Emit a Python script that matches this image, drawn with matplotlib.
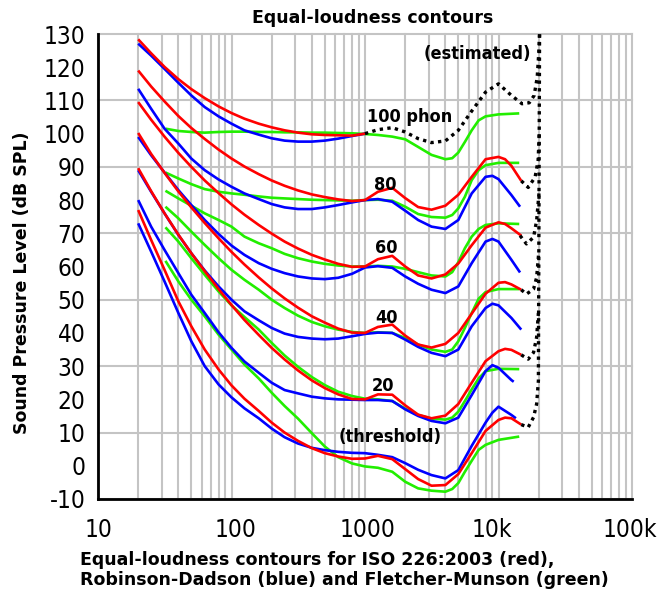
import os
import matplotlib
matplotlib.use('Agg')
import matplotlib.pyplot as plt
from matplotlib import font_manager as fm
from matplotlib.transforms import ScaledTranslation

# ---------------- data ----------------
iso_freq = [20, 25, 31.5, 40, 50, 63, 80, 100, 125, 160, 200, 250, 315, 400, 500,
            630, 800, 1000, 1250, 1600, 2000, 2500, 3150, 4000, 5000, 6300, 8000,
            10000, 11200, 12500, 14800]
iso_0 = [77, 68, 59, 49.5, 42, 35, 29, 24.2, 20.2, 16.5, 13, 10, 7.5, 5.3, 3.8,
         2.8, 2.1, 2.2, 3.0, 2.0, -1.0, -4.0, -6.0, -5.8, -2.5, 3.8, 10.5,
         13.8, 14.5, 14.3, 12.4]
iso_20 = [89.6, 82.7, 76.0, 69.6, 64.0, 58.6, 53.2, 48.4, 43.9, 39.4, 35.5, 32.0,
          28.7, 25.7, 23.4, 21.5, 20.1, 20.0, 21.5, 21.4, 18.2, 15.4, 14.3, 15.1,
          18.6, 25.0, 31.5, 34.5, 35.2, 34.9, 33.4]
iso_40 = [100.2, 93.9, 88.2, 82.6, 77.8, 73.1, 68.5, 64.4, 60.6, 56.7, 53.4, 50.4,
          47.6, 45.0, 43.1, 41.3, 40.1, 40.0, 41.8, 42.5, 39.2, 36.5, 35.6, 36.7,
          40.0, 45.8, 51.8, 55.1, 55.3, 54.6, 53.0]
iso_60 = [109.5, 104.2, 99.1, 94.2, 90.0, 85.9, 82.1, 78.7, 75.6, 72.5, 69.9, 67.5,
          65.4, 63.5, 62.1, 60.8, 59.9, 60.0, 62.2, 63.2, 60.0, 57.3, 56.4, 57.6,
          60.9, 66.4, 71.7, 73.3, 72.8, 71.5, 69.3]
iso_80 = [119.0, 114.2, 109.7, 105.3, 101.7, 98.4, 95.2, 92.5, 90.1, 87.8, 85.9,
          84.3, 82.9, 81.7, 80.9, 80.2, 79.7, 80.0, 82.5, 83.7, 80.6, 77.9, 77.1,
          78.3, 81.6, 87.0, 92.3, 93.0, 92.3, 90.3, 85.8]
iso_100_freq = iso_freq[:18]
iso_100 = [128.4, 124.2, 120.1, 116.4, 113.4, 110.7, 108.2, 106.2, 104.5, 103.0,
           101.9, 101.0, 100.3, 99.8, 99.6, 99.5, 99.4, 100.0]

# dotted "estimated" continuations
est100_freq = [1000, 1250, 1600, 2000, 2500, 3150, 4000, 5000, 6300, 8000, 10000,
               12500, 15000, 17000, 18500, 19500, 20000, 20300]
est100 = [100, 101.2, 101.8, 100.5, 98.5, 97.3, 97.8, 101, 106.8, 112.5, 115,
          111.5, 109, 109.3, 111.5, 117, 124, 130]
est80_freq = [14800, 16700, 18800, 19800, 20200]
est80 = [85.8, 83.8, 86.9, 92, 100]
est60_freq = [14500, 16200, 18300, 19300, 20100]
est60 = [69.3, 66.8, 68.8, 73.8, 82]
est40_freq = [14800, 16200, 18300, 19300, 20000]
est40 = [53.0, 51.7, 53.2, 56.7, 64]
est20_freq = [14800, 16700, 18300, 19300, 19900]
est20 = [33.4, 32.1, 34.1, 38.7, 46]
est0_freq = [14800, 16700, 18300, 19300, 19900, 20300]
est0 = [12.4, 11.6, 14.6, 18.6, 25.6, 130]

# Robinson-Dadson (blue)
rd_freq = [20, 25, 31.5, 40, 50, 63, 80, 100, 125, 160, 200, 250, 315, 400, 500,
           630, 800, 1000, 1250, 1600, 2000, 2500, 3150, 4000, 5000, 6300, 8000,
           9000, 10000, 12500]
rd_0 = [73, 64.5, 55.5, 46, 37.5, 30, 24.5, 20.6, 17.3, 14.3, 11.2, 8.6, 6.7, 5.4,
        4.7, 4.2, 3.9, 3.8, 3.3, 2.6, 0.8, -1.2, -2.8, -3.8, -1.3, 6, 13, 16, 17.8, 15.3]
rd_0_end = (13500, 14.3)
rd_20 = [80, 72, 65, 58, 51.5, 46, 40.2, 35.5, 31.4, 28, 25, 22.8, 21.8, 20.8, 20.3,
         20, 19.9, 19.8, 19.8, 19.5, 17, 15, 13.5, 12.8, 14.5, 21.3, 28.5, 30.3, 29.5, 25.8]
rd_20_end = (13000, 25.3)
rd_40 = [89, 82.5, 76, 69.5, 64, 58.8, 54, 50, 46.5, 43.8, 41.5, 39.8, 38.8, 38.3,
         38.1, 38.3, 39, 39.7, 40.1, 40, 38, 35.8, 34, 33, 35, 42, 47.5, 48.8, 48.3, 44.5]
rd_40_end = (14800, 41)
rd_60 = [99, 93.5, 88.3, 83, 78.5, 74, 69.8, 66.3, 63.5, 61, 59.3, 58, 57, 56.4,
         56.2, 56.6, 57.8, 59.7, 60.1, 59.6, 57, 54.8, 53, 52, 54, 61, 67.5, 68.3, 67.5, 62]
rd_60_end = (14500, 58.2)
rd_80 = [113.5, 107.5, 101.5, 97, 92.5, 89, 86.2, 84, 82, 80.3, 78.8, 77.8, 77.3,
         77.3, 77.8, 78.5, 79.3, 80, 80.3, 79.5, 76.8, 74, 72, 71.3, 74, 82, 87, 87.3,
         86.3, 81.5]
rd_80_end = (14500, 78)
rd_100_freq = rd_freq[:18]
rd_100 = [127.1, 123.5, 119.5, 115.3, 111.5, 108, 105.2, 103, 101, 99.7, 98.6, 97.9,
          97.6, 97.6, 97.9, 98.5, 99.3, 100]

# Fletcher-Munson (green)
fm_freq = [32, 40, 50, 63, 80, 100, 125, 160, 200, 250, 315, 400, 500, 630, 800,
           1000, 1250, 1600, 2000, 2500, 3150, 4000, 4500, 5000, 5600, 6300, 7100,
           8000, 10000, 14300]
fm_0 = [61.7, 55.5, 50, 45, 39.5, 35, 30.5, 26.3, 22, 18, 14.2, 9.8, 5.8, 2.6, 0.7,
        -0.2, -0.6, -1.8, -4.8, -6.8, -7.5, -7.8, -7, -5.2, -1.8, 1.5, 4.8, 6.3, 7.8, 8.8]
fm_20 = [71.8, 67.5, 62.5, 57.5, 52.5, 48.3, 44.8, 41, 37, 33.2, 29.8, 26.7, 24.3,
         22.3, 21, 20.2, 20, 19.5, 17.2, 15.3, 14.2, 13.9, 14.5, 16.3, 19.5, 23, 26.3,
         28.5, 29.2, 29.1]
fm_40 = [78, 74.5, 70.5, 66.5, 62.5, 59, 56, 53, 50, 47.5, 45.2, 43.3, 42, 41, 40.3,
         40, 40.2, 40, 38.5, 36.5, 35, 34.3, 35, 37.5, 41.5, 46, 50.3, 52.3, 53.2, 53.2]
fm_60 = [82.8, 80.5, 78.3, 76, 74, 72, 69, 67, 65.5, 63.8, 62.5, 61.5, 60.8, 60.3, 60,
         60, 60.2, 60, 59.3, 58.3, 57.3, 57, 58.3, 61.3, 65.5, 69, 71.3, 72.5, 73, 72.8]
fm_80 = [88.3, 86.5, 84.8, 83.3, 82.5, 82, 81.6, 81.1, 80.7, 80.5, 80.3, 80.1, 80,
         79.9, 79.8, 80, 80.1, 79.8, 78, 75.8, 74.9, 74.7, 75.5, 77.5, 81, 86, 89, 90.5,
         91.2, 91.2]
fm_100 = [101.5, 100.8, 100.5, 100.3, 100.5, 100.6, 100.6, 100.5, 100.5, 100.4, 100.4,
          100.3, 100.3, 100.2, 100.1, 99.9, 99.6, 99.1, 98.3, 96, 93.6, 92.3, 92.6,
          94.3, 97.5, 101, 104, 105.2, 105.8, 106.1]

x_ticks = [10, 100, 1000, 10000, 100000]
x_tick_labels = ['10', '100', '1000', '10k', '100k']
y_ticks = list(range(-10, 131, 10))
y_grid = list(range(-10, 131, 20))

labels_text = ['100 phon', '80', '60', '40', '20', '(threshold)', '(estimated)']
labels_pos = [(1040, 105, 'left'), (1420, 84.5, 'center'), (1445, 65.6, 'center'),
              (1445, 44.5, 'center'), (1370, 24, 'center'), (1546, 8.7, 'center'),
              (6950, 124, 'center')]

# ---------------- fonts ----------------
def font_file(*names):
    for n in names:
        for f in fm.fontManager.ttflist:
            if os.path.basename(f.fname) == n:
                return f.fname
    return None

reg_path = font_file('DejaVuSansCondensed.ttf', 'LiberationSans-Regular.ttf')
bold_path = font_file('DejaVuSansCondensed-Bold.ttf', 'DejaVuSans-Bold.ttf')
tick_fp = fm.FontProperties(fname=reg_path, size=17.5) if reg_path else fm.FontProperties(size=17)
lab_fp = fm.FontProperties(fname=bold_path, size=13) if bold_path else fm.FontProperties(weight='bold', size=12.5)

# ---------------- figure ----------------
fig = plt.figure(figsize=(6.66, 6.0), dpi=100)
ax = fig.add_axes([98 / 666, 101 / 600, 534 / 666, 465 / 600])
ax.set_xscale('log')
ax.set_xlim(10, 100000)
ax.set_ylim(-10, 130)

gcol = '#c4c4c4'
for yv in y_grid:
    ax.axhline(yv, color=gcol, lw=1.5, zorder=0, clip_on=False)
for dec in [10, 100, 1000, 10000]:
    for m in range(1, 10):
        ax.axvline(dec * m, color=gcol, lw=1.5, zorder=0, clip_on=False)
ax.axvline(100000, color=gcol, lw=1.5, zorder=0, clip_on=False)

green = '#22ee00'
blue = '#0000ff'
red = '#ff0000'
lw = 1.9
kw = dict(lw=lw, solid_joinstyle='round', solid_capstyle='butt')

for vals in [fm_0, fm_20, fm_40, fm_60, fm_80, fm_100]:
    ax.plot(fm_freq, vals, color=green, zorder=2, **kw)

for vals, end in [(rd_0, rd_0_end), (rd_20, rd_20_end), (rd_40, rd_40_end),
                  (rd_60, rd_60_end), (rd_80, rd_80_end)]:
    ax.plot(rd_freq + [end[0]], vals + [end[1]], color=blue, zorder=3, **kw)
ax.plot(rd_100_freq, rd_100, color=blue, zorder=3, **kw)

for vals in [iso_0, iso_20, iso_40, iso_60, iso_80]:
    ax.plot(iso_freq, vals, color=red, zorder=4, **kw)
ax.plot(iso_100_freq, iso_100, color=red, zorder=4, **kw)

for fr, vals in [(est100_freq, est100), (est80_freq, est80), (est60_freq, est60),
                 (est40_freq, est40), (est20_freq, est20), (est0_freq, est0)]:
    ax.plot(fr, vals, color='black', lw=2.4, linestyle=(0, (1, 1.3)), zorder=5,
            clip_on=False)

for txt, (fx, ly, ha) in zip(labels_text, labels_pos):
    ax.text(fx, ly, txt, ha=ha, va='center', fontproperties=lab_fp, zorder=6)

ax.set_xticks(x_ticks)
ax.set_xticklabels(x_tick_labels)
ax.xaxis.set_minor_locator(matplotlib.ticker.NullLocator())
ax.set_yticks(y_ticks)
ax.set_yticklabels([str(v) for v in y_ticks])
for lab in ax.get_xticklabels() + ax.get_yticklabels():
    lab.set_fontproperties(tick_fp)
ax.tick_params(axis='both', length=0)
ax.tick_params(axis='y', pad=9)
ax.tick_params(axis='x', pad=14)
x_label_shift = [1, 4, 3, -7, -2]
for lab, dx in zip(ax.get_xticklabels(), x_label_shift):
    lab.set_transform(lab.get_transform() + ScaledTranslation(dx / 100, 0, fig.dpi_scale_trans))

for s in ['top', 'right']:
    ax.spines[s].set_visible(False)
for s in ['left', 'bottom']:
    ax.spines[s].set_linewidth(2.0)
    ax.spines[s].set_color('black')
    ax.spines[s].set_zorder(7)

fig.text(373 / 666, 1 - 18 / 600, 'Equal-loudness contours', ha='center', va='center',
         fontsize=12.5, fontweight='bold', family='DejaVu Sans')
fig.text(22 / 666, 1 - 283 / 600, 'Sound Pressure Level (dB SPL)', ha='center',
         va='center', rotation=90, fontsize=12.5, fontweight='bold', family='DejaVu Sans')
fig.text(80 / 666, 1 - 560 / 600, 'Equal-loudness contours for ISO 226:2003 (red),',
         ha='left', va='center', fontsize=12.5, fontweight='bold', family='DejaVu Sans')
fig.text(80 / 666, 1 - 580 / 600, 'Robinson-Dadson (blue) and Fletcher-Munson (green)',
         ha='left', va='center', fontsize=12.5, fontweight='bold', family='DejaVu Sans')

fig.savefig('out.png', dpi=100)
